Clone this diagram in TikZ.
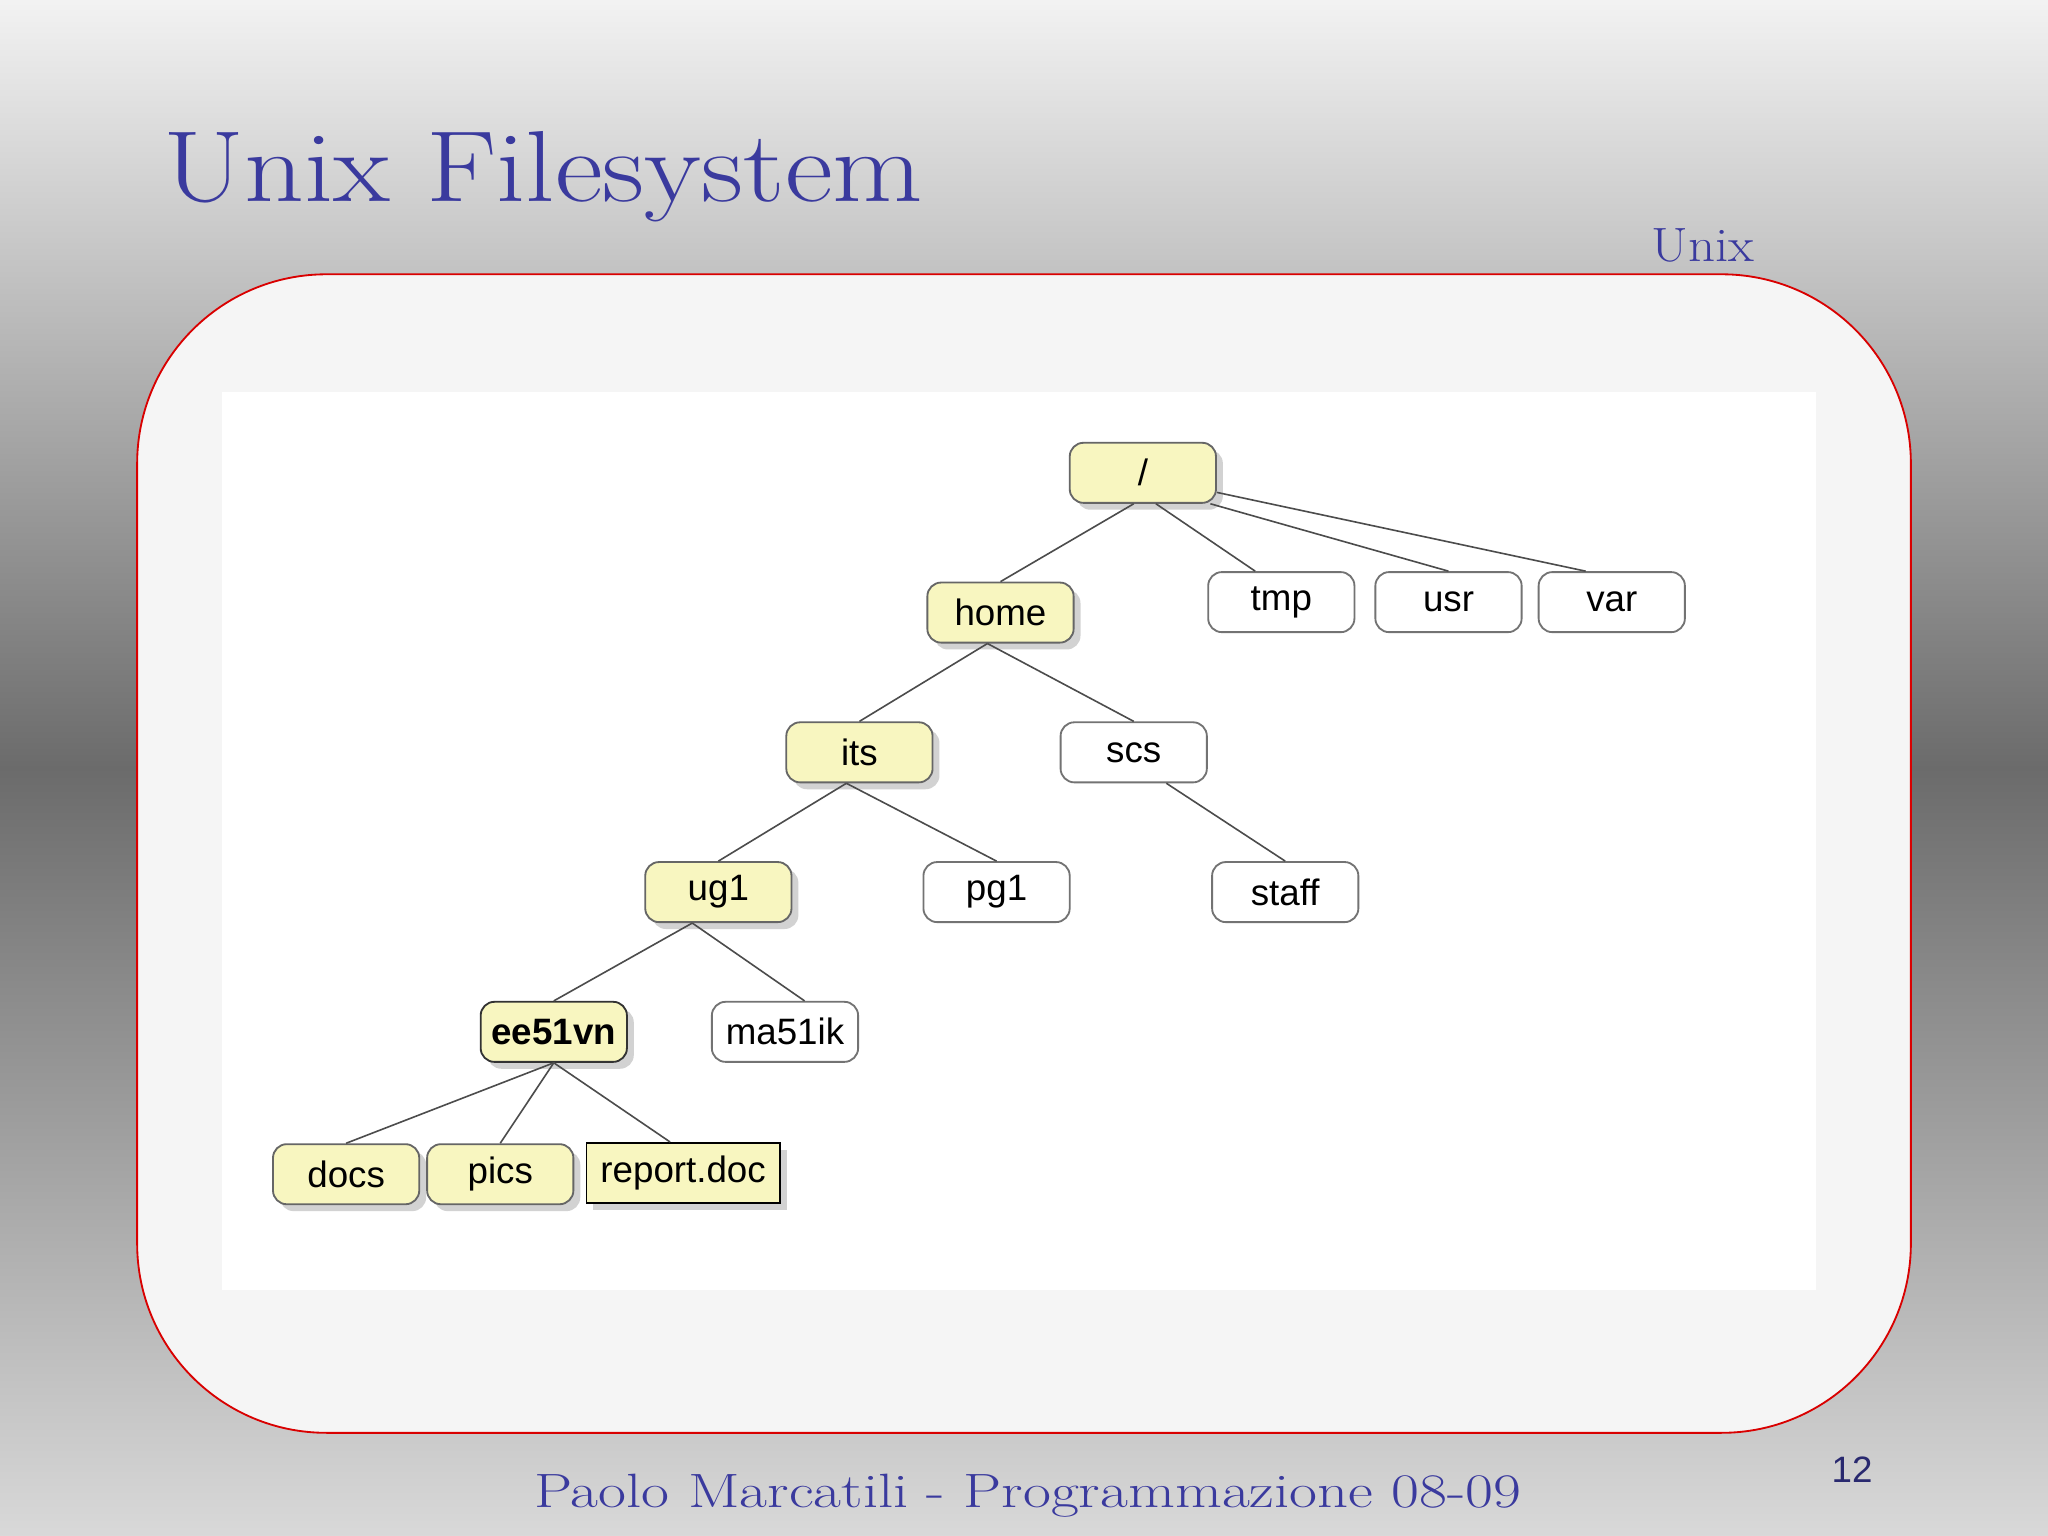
\documentclass[tikz,border=0pt]{standalone}
\usepackage{fontspec}
\newfontfamily\sans{Liberation Sans}
\usetikzlibrary{shadows}
\definecolor{tblue}{HTML}{3A3A9E}
\definecolor{nyel}{HTML}{F8F6C0}
\begin{document}
\begin{tikzpicture}[x=0.02cm,y=-0.02cm,
 nd/.style={draw=black!55,rounded corners=6pt,minimum width=2.24cm,minimum height=0.92cm,font=\sans\fontsize{16}{16}\selectfont,line width=0.8pt,fill=white},
 yel/.style={nd,fill=nyel,draw=black!60,drop shadow={shadow xshift=3pt,shadow yshift=-3pt,opacity=0.35}},
 ed/.style={draw=black!70,line width=0.7pt}]
\shade[top color=black!5,bottom color=black!15,middle color=black!58] (0,0) rectangle (1568,1176);
\useasboundingbox (0,0) rectangle (1568,1176);
\draw[red!85!black,fill=black!4,line width=0.8pt,rounded corners=2.9cm] (105,210) rectangle (1463,1097);
\fill[white] (170,300) rectangle (1390,988);
\node[tblue,font=\fontsize{44}{44}\selectfont,anchor=west,xscale=1.16] (title) at (118,135) {Unix Filesystem};
\node[tblue,font=\fontsize{21}{21}\selectfont,xscale=1.1] (unix) at (1304,188) {Unix};
\node[tblue,font=\fontsize{21}{21}\selectfont,xscale=1.26] (foot) at (787,1145) {Paolo Marcatili - Programmazione 08-09};
\node[tblue!70!black,font=\sans\fontsize{16}{16}\selectfont] (pg) at (1418,1125) {12};
\node[yel] (root) at (875,362) {/};
\node[yel] (home) at (766,469) {home};
\node[nd] (tmp) at (981,461) {tmp};
\node[nd] (usr) at (1109,461) {usr};
\node[nd] (var) at (1234,461) {var};
\node[yel] (its) at (658,576) {its};
\node[nd] (scs) at (868,576) {scs};
\node[yel] (ug1) at (550,683) {ug1};
\node[nd] (pg1) at (763,683) {pg1};
\node[nd] (staff) at (984,683) {staff};
\node[yel,font=\sans\bfseries\fontsize{16}{16}\selectfont,draw=black!80] (ee) at (424,790) {ee51vn};
\node[nd] (ma) at (601,790) {ma51ik};
\node[yel] (docs) at (265,899) {docs};
\node[yel] (pics) at (383,899) {pics};
\node[yel,rounded corners=0pt,minimum width=2.96cm,draw=black] (rep) at (523,898) {report.doc};
\draw[ed] ([xshift=-0.14cm]root.south) -- (home.north);
\draw[ed] ([xshift=0.2cm]root.south) -- ([xshift=-0.4cm]tmp.north);
\draw[ed] ([xshift=-0.1cm]root.south east) -- (usr.north);
\draw[ed] ([yshift=-0.3cm]root.east) -- ([xshift=-0.4cm]var.north);
\draw[ed] ([xshift=-0.2cm]home.south) -- (its.north);
\draw[ed] ([xshift=-0.2cm]home.south) -- (scs.north);
\draw[ed] ([xshift=-0.2cm]its.south) -- (ug1.north);
\draw[ed] ([xshift=-0.2cm]its.south) -- (pg1.north);
\draw[ed] ([xshift=0.5cm]scs.south) -- (staff.north);
\draw[ed] ([xshift=-0.4cm]ug1.south) -- (ee.north);
\draw[ed] ([xshift=-0.4cm]ug1.south) -- ([xshift=0.3cm]ma.north);
\draw[ed] (ee.south) -- (docs.north);
\draw[ed] (ee.south) -- (pics.north);
\draw[ed] (ee.south) -- ([xshift=-0.2cm]rep.north);
\end{tikzpicture}
\end{document}
